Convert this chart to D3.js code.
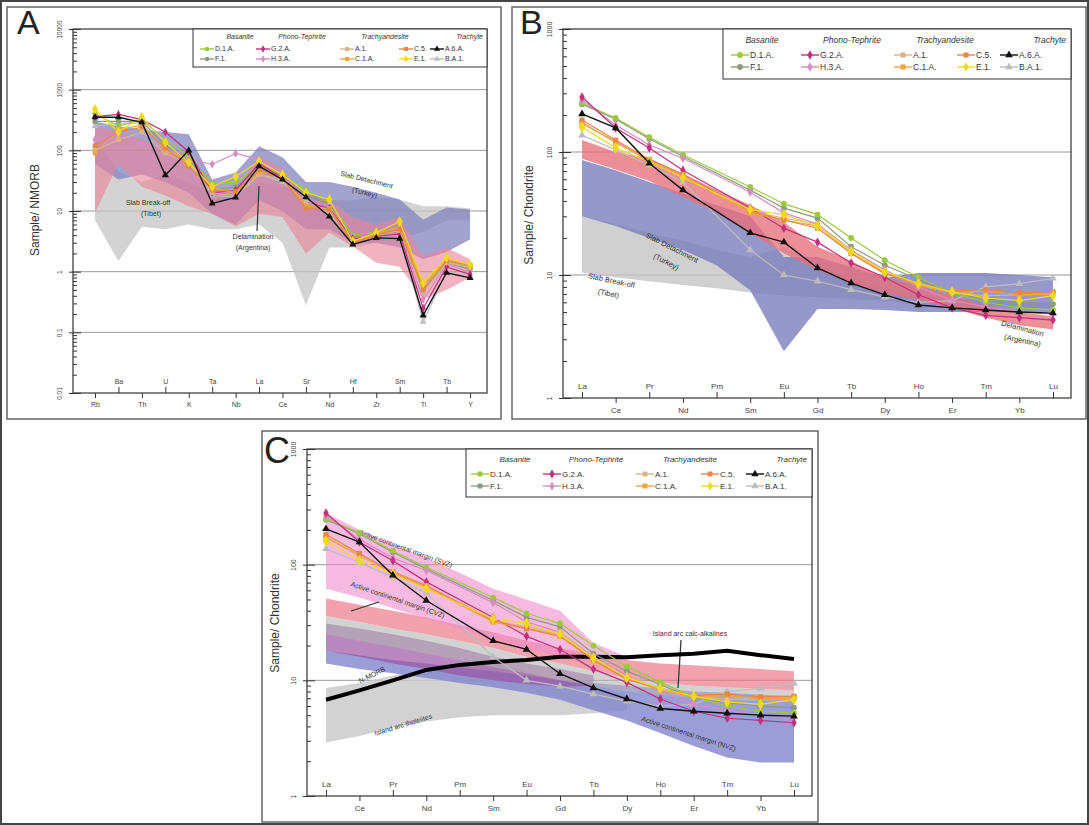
<!DOCTYPE html>
<html>
<head>
<meta charset="utf-8">
<script src="https://cdn.jsdelivr.net/npm/d3@7"></script>
<style>
  body { margin: 0; background: #fff; }
  svg { font-family: "Liberation Sans", Arial, sans-serif; }
</style>
</head>
<body>
<svg id="fig" width="1089" height="825"></svg>
<script>
//////////////////////////////////////
//////////// DATA ////////////////////
//////////////////////////////////////

var traceEls = ["Rb","Ba","Th","U","K","Ta","Nb","La","Ce","Sr","Nd","Hf","Zr","Sm","Ti","Tb","Y"];
var reeEls = ["La","Ce","Pr","Nd","Pm","Sm","Eu","Gd","Tb","Dy","Ho","Er","Tm","Yb","Lu"];

var rockGroups = ["Basanite","Phono-Tephrite","Trachyandesite","Trachyte"];
var sampleNames = ["D.1.A.","F.1.","G.2.A.","H.3.A.","A.1.","C.1.A.","C.5.","E.1.","A.6.A.","B.A.1."];

// sample / NMORB
var traceD1A = [400, 250, 320, 150, 80, 28, 30, 55, 40, 22, 14, 4.0, 4.5, 5.0, 0.55, 1.5, 1.2];
var traceF1  = [300, 300, 300, 120, 70, 22, 25, 50, 38, 18, 13, 3.8, 4.2, 4.5, 0.5, 1.4, 1.1];
var traceG2A = [360, 390, 320, 200, 95, 20, 22, 60, 35, 14, 11, 3.5, 3.8, 4.2, 0.25, 1.2, 0.9];
var traceH3A = [150, 180, 130, 110, 70, 59, 89, 71, 40, 16, 12, 3.6, 4.0, 4.5, 0.35, 1.3, 1.0];
var traceA1  = [100, 150, 200, 90, 60, 20, 18, 40, 33, 14, 10, 3.2, 4.0, 4.8, 0.45, 1.4, 1.2];
var traceC1A = [90, 220, 260, 100, 65, 24, 20, 45, 36, 12, 11, 3.0, 4.2, 5.5, 0.6, 1.6, 1.3];
var traceC5  = [120, 200, 240, 110, 55, 22, 21, 48, 34, 11, 10.5, 3.0, 4.0, 5.0, 0.5, 1.5, 1.25];
var traceE1  = [475, 200, 350, 135, 63, 25, 37, 66, 40, 20, 15.5, 3.2, 4.4, 6.7, 0.65, 1.7, 1.3];
var traceA6A = [351, 351, 290, 39, 100, 13.3, 16.7, 55, 33, 17, 8.1, 2.8, 3.6, 3.5, 0.19, 0.96, 0.79];
var traceBA1 = [250, 280, 280, 100, 75, 18, 17, 40, 30, 15, 9, 3.4, 3.8, 4.0, 0.15, 1.0, 0.85];

// sample / chondrite (Pm not measured)
var reeD1A = [250, 189, 132, 95, null, 52, 38, 31, 20, 13.2, 9.6, 7.2, 6.0, 5.4, 5.2];
var reeF1  = [245, 185, 128, 92, null, 49, 35, 29, 17, 12, 9.2, 7.0, 6.4, 6.0, 5.8];
var reeG2A = [280, 157, 108, 71, null, 35, 24, 18.5, 12.5, 9.6, 6.9, 5.4, 4.7, 4.5, 4.3];
var reeH3A = [265, 166, 114, 89, null, 47, 32, 26, 16, 11, 8, 6.2, 5.5, 5.0, 4.8];
var reeA1  = [175, 118, 86, 65, null, 33, 29, 26, 16, 10.5, 8.3, 7.2, 6.8, 6.9, 7.0];
var reeC1A = [170, 122, 84, 64, null, 32, 28, 25, 15, 10.4, 8.3, 7.2, 7.4, 6.9, 7.1];
var reeC5  = [182, 125, 87, 66, null, 33, 28, 24, 15, 10.2, 8.5, 7.4, 7.6, 7.2, 7.3];
var reeE1  = [160, 108, 83, 62, null, 34, 31, 25, 15.5, 10.6, 8.5, 7.3, 6.5, 6.2, 6.8];
var reeA6A = [204, 157, 81, 49, null, 22, 18.5, 11.4, 8.6, 6.9, 5.7, 5.4, 5.2, 5.0, 4.9];
var reeBA1 = [137, 104, 78, 57, null, 16, 10, 8.9, 7.6, 6.6, 6.0, 6.2, 8.0, 8.5, 9.4];

// reference fields, panel A (NMORB)
var tibetHiA  = [150, 45, 30, 40, 30, 20, 20, 30, 25, 20, 15, 15, 17, 15.5, 12, 12, 11];
var tibetLoA  = [7, 1.5, 5.5, 5, 6, 5, 5, 6, 3, 0.28, 2.5, 2.5, 3, 3.5, 4.5, 7, 7];
var turkeyHiA = [300, 250, 220, 200, 185, 33, 43, 117, 77, 30, 30, 25, 20, 15.5, 7.2, 11.4, 10.6];
var turkeyLoA = [60, 33, 40, 30, 20, 9, 6, 15, 10, 5, 5, 3, 3, 2.5, 1.6, 2.1, 3.4];
var argHiA    = [250, 200, 150, 100, 90, 25, 22, 80, 50, 15, 15, 8, 6, 8, 1.8, 2.5, 1.6];
var argLoA    = [9.4, 60, 25, 18, 12, 9, 5.6, 9, 8, 2, 4.4, 2.6, 1.4, 1.2, 0.35, 0.5, 0.8];

// reference fields, panel B (chondrite)
var tibetHiB  = [30, 26, 22, 19, 16, 14, 17, 12, 9, 8, 7, 6.5, 6.2, 6, 6];
var tibetLoB  = [10.5, 9.6, 8.9, 8.3, 7.8, 7.2, 6.8, 6.6, 6.4, 6.2, 5.8, 5.6, 5.5, 5.4, 5.3];
var turkeyHiB = [86, 71, 57, 46, 37, 30, 14, 14, 11.6, 9.5, 10.4, 10.4, 10.4, 10, 9.6];
var turkeyLoB = [30, 25, 20, 16, 12, 7.5, 2.4, 5.3, 5.3, 5.2, 5.0, 5.0, 5.0, 5.0, 5.0];
var argHiB    = [125, 100, 89, 67, 49, 37, 27, 17, 13, 9.5, 8.2, 6.8, 5.6, 5.0, 4.6];
var argLoB    = [88, 72, 58, 43, 32, 22, 15, 11, 8.6, 7.1, 6.3, 5.4, 4.5, 3.9, 3.6];

// reference fields, panel C (chondrite)
var svzHiC    = [280, 200, 150, 115, 85, 62, 50, 40, 21, 16, null, null, null, null, null];
var svzLoC    = [62, 52, 42, 34, 28, 23, 19, 16, 14.5, 15, null, null, null, null, null];
var calcHiC   = [51, 45, 40, 35, 30, 26, 22, 19, 17, 15, 14, 13.5, 13, 12.5, 12];
var calcLoC   = [36, 32, 28, 25, 22, 19, 16, 14, 12, 10.5, 9.5, 9, 8.7, 8.4, 8.2];
var greyHiC   = [36, 32, 28, 25, 22, 19, 16, 14, 12, 10.5, 9.5, 9, 8.7, 8.4, 8.2];
var greyLoC   = [25, 22, 19.5, 17, 15, 13, 11.5, 10, 9, 8, 7.5, 7, 6.8, 6.6, 6.5];
var purpleHiC = [31, 28, 25, 22, 19, 16, 14, 12.5, 11, null, null, null, null, null, null];
var purpleLoC = [18, 16, 14, 12.5, 11, 10, 9.3, 8.8, 9, null, null, null, null, null, null];
var nvzHiC    = [18, 16.5, 15, 14, 13, 12, 11, 10, 9.5, 9, 8.5, 8, 7.8, 7.5, 7.3];
var nvzLoC    = [14, 12.5, 11.5, 10.5, 9.5, 8.7, 7.8, 6.8, 5.5, 4.5, 3.5, 2.7, 2.15, 1.95, 1.95];
var tholHiC   = [8.6, 9.5, 11, 12.5, 13.5, 14, 12, 10, 8.5, 7.5, null, null, null, null, null];
var tholLoC   = [2.9, 3.3, 3.9, 4.4, 4.8, 5.0, 5.0, 5.0, 5.2, 5.5, null, null, null, null, null];
var nmorbC    = [6.8, 8.2, 10, 12.3, 13.6, 14.4, 15, 16, 16, 15.8, 16.5, 17, 18, 16.5, 15.3];

//////////////////////////////////////
//////////// STYLE ///////////////////
//////////////////////////////////////

var series = [
  {name: "B.A.1.", color: "#bdbdbd", symbol: d3.symbolTriangle, trace: traceBA1, ree: reeBA1},
  {name: "F.1.",   color: "#8c9c82", symbol: d3.symbolCircle,   trace: traceF1,  ree: reeF1},
  {name: "D.1.A.", color: "#9dc93b", symbol: d3.symbolCircle,   trace: traceD1A, ree: reeD1A},
  {name: "H.3.A.", color: "#d68cc4", symbol: d3.symbolDiamond,  trace: traceH3A, ree: reeH3A},
  {name: "G.2.A.", color: "#c2307e", symbol: d3.symbolDiamond,  trace: traceG2A, ree: reeG2A},
  {name: "A.1.",   color: "#d9b48a", symbol: d3.symbolSquare,   trace: traceA1,  ree: reeA1},
  {name: "C.1.A.", color: "#f2a43a", symbol: d3.symbolSquare,   trace: traceC1A, ree: reeC1A},
  {name: "C.5.",   color: "#e5874a", symbol: d3.symbolSquare,   trace: traceC5,  ree: reeC5},
  {name: "E.1.",   color: "#f2d81a", symbol: d3.symbolDiamond,  trace: traceE1,  ree: reeE1},
  {name: "A.6.A.", color: "#111111", symbol: d3.symbolTriangle, trace: traceA6A, ree: reeA6A}
];
function byName(n) { return series.filter(function(s) { return s.name === n; })[0]; }

// legend slots: column, row
var legendSlots = {"D.1.A.": [0,0], "F.1.": [0,1], "G.2.A.": [1,0], "H.3.A.": [1,1], "A.1.": [2,0],
                   "C.1.A.": [2,1], "C.5.": [3,0], "E.1.": [3,1], "A.6.A.": [4,0], "B.A.1.": [4,1]};

var svg = d3.select("#fig");
svg.append("rect").attr("x", 1).attr("y", 1).attr("width", 1087).attr("height", 823)
  .attr("fill", "#fff").attr("stroke", "#444").attr("stroke-width", 2);

function drawPanel(p) {
  var g = svg.append("g");

  g.append("rect")
    .attr("x", p.frame[0]).attr("y", p.frame[1])
    .attr("width", p.frame[2] - p.frame[0]).attr("height", p.frame[3] - p.frame[1])
    .attr("fill", "none").attr("stroke", "#666").attr("stroke-width", 1.5);

  g.append("text").attr("x", p.letter[0]).attr("y", p.letter[1])
    .attr("font-size", p.letter[2]).attr("fill", "#222").text(p.letter[3]);

  var x = d3.scalePoint().domain(p.cats).range([p.xFirst, p.xLast]);
  var y = d3.scaleLog().domain(p.yDomain).range([p.box[3], p.box[1]]);

  var decades = [];
  var e0 = Math.round(Math.log10(p.yDomain[0])), e1 = Math.round(Math.log10(p.yDomain[1]));
  for (var e = e0; e <= e1; e++) decades.push(+Math.pow(10, e).toPrecision(1));
  var minors = [];
  decades.slice(0, -1).forEach(function(d) {
    for (var k = 2; k < 10; k++) minors.push(d * k);
  });

  // decade grid
  g.selectAll(".grid").data(decades.slice(1, -1)).enter().append("line")
    .attr("x1", p.box[0]).attr("x2", p.box[2])
    .attr("y1", function(d) { return y(d); }).attr("y2", function(d) { return y(d); })
    .attr("stroke", "#9a9a9a").attr("stroke-width", 1);

  // fields
  p.fields.forEach(function(f) {
    var pts = p.cats.map(function(c, i) { return {c: c, hi: f.hi[i], lo: f.lo[i]}; });
    var area = d3.area()
      .defined(function(d) { return d.hi != null; })
      .x(function(d) { return x(d.c); })
      .y0(function(d) { return y(d.lo); })
      .y1(function(d) { return y(d.hi); });
    g.append("path").attr("d", area(pts)).attr("fill", f.color).attr("fill-opacity", f.op);
  });

  // field labels
  p.labels.forEach(function(l) {
    g.append("text")
      .attr("transform", "translate(" + l.x + "," + l.y + ") rotate(" + (l.r || 0) + ")")
      .attr("text-anchor", "middle").attr("font-size", p.labelSize).attr("fill", "#333")
      .text(l.t);
  });
  p.pointers.forEach(function(q) {
    g.append("line").attr("x1", q[0]).attr("y1", q[1]).attr("x2", q[2]).attr("y2", q[3])
      .attr("stroke", "#333").attr("stroke-width", 1.2);
  });

  // reference N-MORB curve
  if (p.nmorb) {
    var npts = p.cats.map(function(c, i) { return {c: c, v: p.nmorb[i]}; });
    g.append("path")
      .attr("d", d3.line().x(function(d) { return x(d.c); }).y(function(d) { return y(d.v); })(npts))
      .attr("fill", "none").attr("stroke", "#000").attr("stroke-width", 4);
  }

  // sample patterns
  series.forEach(function(s) {
    var vals = s[p.key];
    var pts = p.cats.map(function(c, i) { return {c: c, v: vals[i]}; })
      .filter(function(d) { return d.v != null; });
    var line = d3.line().x(function(d) { return x(d.c); }).y(function(d) { return y(d.v); });
    g.append("path").attr("d", line(pts)).attr("fill", "none")
      .attr("stroke", s.color).attr("stroke-width", s.name === "A.6.A." ? 1.4 : 1.2);
    g.selectAll(null).data(pts).enter().append("path")
      .attr("transform", function(d) { return "translate(" + x(d.c) + "," + y(d.v) + ")"; })
      .attr("d", d3.symbol().type(s.symbol).size(s.name === "E.1." ? p.symSize * 1.5 : p.symSize))
      .attr("fill", s.color);
  });

  // plot box
  g.append("rect")
    .attr("x", p.box[0]).attr("y", p.box[1])
    .attr("width", p.box[2] - p.box[0]).attr("height", p.box[3] - p.box[1])
    .attr("fill", "none").attr("stroke", "#333").attr("stroke-width", 1.2);

  // y axis: labels outside, ticks inside
  var yAx = g.append("g").attr("transform", "translate(" + p.box[0] + ",0)").attr("color", "#333")
    .call(d3.axisLeft(y).tickValues(decades).tickSize(4)
      .tickFormat(function(d) { return String(d); }));
  yAx.select(".domain").remove();
  yAx.selectAll("text").attr("x", 0).attr("dy", 0)
    .attr("transform", "translate(" + (-p.yLabOff) + ",0) rotate(-90)")
    .attr("text-anchor", "middle").attr("font-size", p.yLabSize)
    .attr("font-family", "Liberation Sans, Arial, sans-serif").attr("fill", "#444");

  var yIn = g.append("g").attr("transform", "translate(" + p.box[0] + ",0)").attr("color", "#333")
    .call(d3.axisRight(y).tickValues(decades).tickSize(8).tickFormat(""));
  yIn.select(".domain").remove();
  var yMin = g.append("g").attr("transform", "translate(" + p.box[0] + ",0)").attr("color", "#333")
    .call(d3.axisRight(y).tickValues(minors).tickSize(4).tickFormat(""));
  yMin.select(".domain").remove();

  g.append("text")
    .attr("transform", "translate(" + p.yTitle[0] + "," + p.yTitle[1] + ") rotate(-90)")
    .attr("text-anchor", "middle").attr("font-size", 12).attr("fill", "#333")
    .text(p.yTitle[2]);

  // x axis: staggered element labels
  var xAx = g.append("g").attr("transform", "translate(0," + p.box[3] + ")").attr("color", "#333")
    .call(d3.axisBottom(x).tickSize(5));
  xAx.select(".domain").remove();
  xAx.selectAll(".tick").each(function(d, i) {
    var t = d3.select(this);
    t.select("text").attr("font-size", p.xLabSize)
      .attr("font-family", "Liberation Sans, Arial, sans-serif").attr("fill", "#444");
    if (i % 2 === p.topParity) {
      t.select("line").attr("y2", -6);
      t.select("text").attr("y", -9).attr("dy", 0);
    } else {
      t.select("text").attr("y", 9).attr("dy", "0.71em");
    }
  });

  // legend
  var L = p.legend;
  g.append("rect").attr("x", L.box[0]).attr("y", L.box[1])
    .attr("width", L.box[2] - L.box[0]).attr("height", L.box[3] - L.box[1])
    .attr("fill", "#fff").attr("stroke", "#333").attr("stroke-width", 1);
  rockGroups.forEach(function(r, i) {
    g.append("text").attr("x", L.heads[i]).attr("y", L.headY)
      .attr("text-anchor", i === 3 ? "end" : "middle")
      .attr("font-size", L.size).attr("font-style", "italic").attr("fill", "#333").text(r);
  });
  sampleNames.forEach(function(n) {
    var s = byName(n), slot = legendSlots[n];
    var mx = L.cols[slot[0]], my = L.rows[slot[1]];
    g.append("line").attr("x1", mx - L.half).attr("x2", mx + L.half).attr("y1", my).attr("y2", my)
      .attr("stroke", s.color).attr("stroke-width", 1.4);
    g.append("path").attr("transform", "translate(" + mx + "," + my + ")")
      .attr("d", d3.symbol().type(s.symbol).size(L.sym)).attr("fill", s.color);
    g.append("text").attr("x", mx + L.half + 1).attr("y", my).attr("dy", "0.35em")
      .attr("font-size", L.size).attr("fill", "#333").text(n);
  });
}

//////////////////////////////////////
//////////// PANELS //////////////////
//////////////////////////////////////

drawPanel({
  frame: [7, 7, 501, 419], letter: [17, 34, 34, "A"],
  cats: traceEls, key: "trace", xFirst: 95, xLast: 470,
  box: [73, 29, 487, 393], yDomain: [0.01, 10000],
  yLabOff: 11, yLabSize: 6.5, xLabSize: 7, topParity: 1, symSize: 22, labelSize: 7,
  yTitle: [39, 210, "Sample/ NMORB"],
  fields: [
    {hi: tibetHiA, lo: tibetLoA, color: "#c4c4c4", op: 0.75},
    {hi: turkeyHiA, lo: turkeyLoA, color: "#7f80bd", op: 0.72},
    {hi: argHiA, lo: argLoA, color: "#e8849a", op: 0.62}
  ],
  labels: [
    {t: "Slab Break-off", x: 148, y: 205}, {t: "(Tibet)", x: 151, y: 216},
    {t: "Slab Detachment", x: 366, y: 182, r: 14}, {t: "(Turkey)", x: 364, y: 195, r: 14},
    {t: "Delamination", x: 253, y: 239}, {t: "(Argentina)", x: 253, y: 250}
  ],
  pointers: [[259, 186, 257, 231]],
  legend: {box: [193, 29, 487, 67], headY: 39, rows: [49, 59], cols: [207, 263, 347, 406, 437],
           heads: [240, 302, 385, 483], half: 7, size: 7, sym: 16}
});

drawPanel({
  frame: [512, 7, 1086, 419], letter: [520, 34, 34, "B"],
  cats: reeEls, key: "ree", xFirst: 582, xLast: 1053,
  box: [563, 29, 1071, 398], yDomain: [1, 1000],
  yLabOff: 11, yLabSize: 7, xLabSize: 8, topParity: 0, symSize: 26, labelSize: 7.5,
  yTitle: [533, 215, "Sample/ Chondrite"],
  fields: [
    {hi: tibetHiB, lo: tibetLoB, color: "#c4c4c4", op: 0.8},
    {hi: turkeyHiB, lo: turkeyLoB, color: "#7a7bbb", op: 0.78},
    {hi: argHiB, lo: argLoB, color: "#e86f7c", op: 0.78}
  ],
  labels: [
    {t: "Slab Detachment", x: 671, y: 250, r: 27}, {t: "(Turkey)", x: 665, y: 264, r: 27},
    {t: "Slab Break-off", x: 611, y: 283, r: 12}, {t: "(Tibet)", x: 608, y: 296, r: 12},
    {t: "Delamination", x: 1022, y: 331, r: 15}, {t: "(Argentina)", x: 1022, y: 343, r: 12}
  ],
  pointers: [],
  legend: {box: [723, 29, 1071, 79], headY: 43, rows: [55, 67], cols: [740, 810, 903, 966, 1009],
           heads: [762, 852, 945, 1066], half: 9, size: 8.5, sym: 26}
});

drawPanel({
  frame: [262, 431, 818, 822], letter: [264, 463, 36, "C"],
  cats: reeEls, key: "ree", xFirst: 326, xLast: 794,
  box: [307, 449, 812, 796], yDomain: [1, 1000],
  yLabOff: 11, yLabSize: 7, xLabSize: 8, topParity: 0, symSize: 26, labelSize: 7,
  yTitle: [279, 623, "Sample/ Chondrite"],
  nmorb: nmorbC,
  fields: [
    {hi: tholHiC, lo: tholLoC, color: "#cacaca", op: 0.85},
    {hi: nvzHiC, lo: nvzLoC, color: "#8286cc", op: 0.8},
    {hi: purpleHiC, lo: purpleLoC, color: "#9a55a2", op: 0.7},
    {hi: greyHiC, lo: greyLoC, color: "#b4b4b4", op: 0.6},
    {hi: calcHiC, lo: calcLoC, color: "#ec7a8a", op: 0.7},
    {hi: svzHiC, lo: svzLoC, color: "#f08ccc", op: 0.6}
  ],
  labels: [
    {t: "Active continental margin (SVZ)", x: 405, y: 551, r: 20},
    {t: "Active continental margin (CVZ)", x: 397, y: 602, r: 19},
    {t: "Island arc calc-alkalines", x: 690, y: 636},
    {t: "N-MORB", x: 373, y: 677, r: -27},
    {t: "Island arc tholeiites", x: 404, y: 727, r: -17},
    {t: "Active continental margin (NVZ)", x: 688, y: 736, r: 18}
  ],
  pointers: [[351, 611, 379, 602], [681, 640, 678, 688]],
  legend: {box: [466, 449, 812, 497], headY: 462, rows: [474, 486], cols: [480, 552, 645, 710, 755],
           heads: [515, 596, 690, 807], half: 9, size: 8, sym: 24}
});
</script>
</body>
</html>
